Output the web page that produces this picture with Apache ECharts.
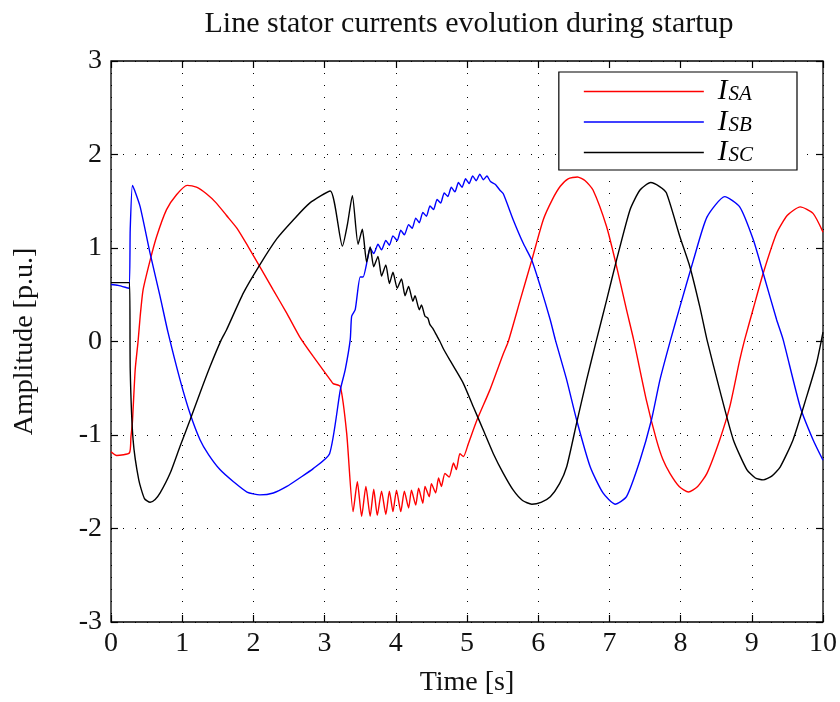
<!DOCTYPE html>
<html>
<head>
<meta charset="utf-8">
<script src="https://cdn.jsdelivr.net/npm/echarts@6/dist/echarts.min.js"></script>
<style>html,body{margin:0;padding:0;background:#fff}#c{width:840px;height:702px}</style>
</head>
<body>
<div id="c"></div>
<script>
// ---- data ----
var titleText = 'Line stator currents evolution during startup';
var xName = 'Time [s]';
var yName = 'Amplitude [p.u.]';
var xTicks = [0,1,2,3,4,5,6,7,8,9,10];
var yTicks = [-3,-2,-1,0,1,2,3];
var seriesNames = ['I_SA','I_SB','I_SC'];

var tA = [0.00,0.08,0.26,0.28,0.30,0.34,0.38,0.41,0.45,0.55,0.64,0.78,0.92,1.07,1.20,1.34,1.48,1.62,1.77,1.93,2.09,2.28,2.47,2.65,2.84,3.08,3.12,3.22,3.31,
  3.40,3.46,3.52,3.58,3.64,3.69,3.74,3.80,3.86,3.91,3.96,4.01,4.07,4.12,4.18,4.22,4.28,4.32,4.38,4.41,4.47,4.50,4.56,4.60,4.64,4.69,4.75,4.81,4.85,4.90,4.95,
  5.02,5.14,5.32,5.51,5.58,5.75,5.91,6.07,6.20,6.31,6.42,6.55,6.66,6.77,6.96,7.08,7.24,7.34,7.52,7.66,7.75,7.85,7.98,8.11,8.24,8.37,8.55,8.69,8.83,8.90,9.02,9.16,9.35,9.50,9.68,9.86,10.0];
var vA = [-1.18,-1.22,-1.19,-1.02,-0.87,-0.30,0.00,0.27,0.55,0.87,1.12,1.41,1.57,1.67,1.65,1.58,1.48,1.35,1.21,1.01,0.80,0.55,0.30,0.05,-0.16,-0.41,-0.45,-0.48,-0.98,
  -1.82,-1.50,-1.87,-1.55,-1.87,-1.58,-1.86,-1.60,-1.85,-1.60,-1.82,-1.59,-1.82,-1.60,-1.78,-1.59,-1.75,-1.57,-1.73,-1.55,-1.66,-1.52,-1.62,-1.46,-1.55,-1.41,-1.45,-1.30,-1.37,-1.20,-1.23,
  -1.09,-0.84,-0.52,-0.13,0.00,0.45,0.87,1.30,1.52,1.66,1.74,1.76,1.72,1.62,1.23,0.87,0.34,0.02,-0.63,-1.05,-1.26,-1.41,-1.55,-1.61,-1.55,-1.41,-1.05,-0.70,-0.20,0.02,0.35,0.73,1.16,1.35,1.44,1.37,1.17];

var tB = [0.00,0.10,0.25,0.27,0.30,0.33,0.41,0.55,0.69,0.80,0.97,1.11,1.25,1.37,1.53,1.72,1.91,2.09,2.28,2.47,2.65,2.84,3.07,3.22,3.29,3.36,3.38,3.43,3.50,3.54,3.60,
  3.64,3.69,3.75,3.80,3.86,3.91,3.96,4.02,4.07,4.12,4.18,4.23,4.28,4.33,4.38,4.43,4.48,4.53,4.58,4.63,4.68,4.73,4.78,4.83,4.88,4.93,4.98,5.03,5.08,5.13,5.18,5.23,5.28,5.33,
  5.40,5.46,5.51,5.65,5.79,5.91,6.03,6.17,6.24,6.40,6.54,6.73,6.91,7.08,7.24,7.43,7.59,7.71,7.86,7.99,8.18,8.37,8.62,8.83,9.02,9.16,9.35,9.44,9.68,9.86,10.0];
var vB = [0.61,0.60,0.57,1.20,1.67,1.62,1.44,0.94,0.48,0.10,-0.41,-0.77,-1.05,-1.21,-1.37,-1.50,-1.61,-1.64,-1.62,-1.55,-1.46,-1.36,-1.20,-0.52,-0.30,0.02,0.27,0.34,0.69,0.69,0.87,
  1.00,0.94,1.04,0.98,1.08,1.03,1.13,1.08,1.19,1.14,1.25,1.21,1.32,1.27,1.38,1.34,1.45,1.41,1.52,1.48,1.59,1.55,1.65,1.60,1.70,1.65,1.74,1.69,1.77,1.72,1.79,1.73,1.77,1.71,
  1.68,1.62,1.58,1.30,1.05,0.87,0.59,0.23,0.02,-0.41,-0.84,-1.34,-1.62,-1.74,-1.66,-1.27,-0.84,-0.41,0.02,0.37,0.87,1.33,1.55,1.44,1.09,0.73,0.23,0.02,-0.70,-1.05,-1.27];

var tC = [0.00,0.26,0.27,0.31,0.39,0.47,0.55,0.62,0.69,0.83,0.97,1.11,1.25,1.39,1.55,1.62,1.86,2.09,2.33,2.56,2.79,3.08,3.25,3.32,3.39,3.47,3.53,3.59,3.64,3.69,3.75,3.80,3.86,3.91,3.96,4.02,4.08,4.13,4.18,4.24,4.27,4.33,4.36,4.41,4.45,4.48,4.52,4.57,4.62,4.67,4.76,4.83,
  4.95,5.09,5.23,5.37,5.51,5.65,5.78,5.91,6.04,6.17,6.30,6.40,6.54,6.68,6.82,6.96,7.10,7.29,7.43,7.58,7.70,7.80,7.99,8.13,8.27,8.37,8.55,8.74,8.93,9.05,9.16,9.28,9.40,9.58,9.77,9.91,10.0];
var vC = [0.63,0.63,-0.30,-1.05,-1.48,-1.68,-1.72,-1.69,-1.62,-1.41,-1.12,-0.84,-0.55,-0.27,0.02,0.12,0.52,0.82,1.10,1.30,1.48,1.61,1.02,1.25,1.56,1.04,1.20,0.85,1.01,0.80,0.91,0.70,0.82,0.62,0.74,0.57,0.67,0.49,0.59,0.43,0.49,0.34,0.39,0.27,0.25,0.18,0.14,0.07,0.00,-0.08,-0.20,-0.29,
  -0.45,-0.70,-0.95,-1.20,-1.41,-1.59,-1.70,-1.74,-1.72,-1.66,-1.52,-1.34,-0.87,-0.41,0.02,0.44,0.87,1.41,1.62,1.70,1.66,1.59,1.12,0.80,0.37,0.02,-0.52,-1.05,-1.37,-1.46,-1.48,-1.44,-1.34,-1.05,-0.59,-0.23,0.10];

function pairs(t, v){ return t.map(function(x,i){ return [x, v[i]]; }); }

var FONT = 'Liberation Serif';
var chart = echarts.init(document.getElementById('c'), null, {renderer:'canvas'});
var dotted = {show:true, lineStyle:{color:'#000', width:1, type:[1,11]}};
var tickIn = {show:true, inside:true, length:7, lineStyle:{color:'#000', width:1.2}};
var noLine = {show:false, onZero:false};

chart.setOption({
  animation:false,
  backgroundColor:'#fff',
  title:{text:titleText, left:464, top:4, textAlign:'center',
    textStyle:{fontFamily:FONT, fontWeight:'normal', fontSize:30, color:'#111'}},
  grid:{left:111, top:61, width:712, height:561, show:true, borderColor:'#000', borderWidth:1.3, backgroundColor:'#fff'},
  legend:{orient:'vertical', right:43, top:72, backgroundColor:'#fff', borderColor:'#000', borderWidth:1.2,
    padding:[5,44,3,25], itemWidth:120, itemHeight:1.5, itemGap:1.5, icon:'rect',
    data:seriesNames,
    formatter:function(n){ return '{i|I}{s|' + n.split('_')[1] + '}'; },
    textStyle:{fontFamily:FONT, color:'#000', rich:{
      i:{fontFamily:FONT, fontStyle:'italic', fontSize:29, height:26, lineHeight:26, verticalAlign:'middle', padding:[0,1,0,9]},
      s:{fontFamily:FONT, fontStyle:'italic', fontSize:21, height:20, lineHeight:26, verticalAlign:'middle', padding:[6,0,0,0]}
    }}},
  xAxis:[
    {type:'value', min:0, max:10, interval:1, position:'bottom',
     axisLine:noLine, axisTick:tickIn, splitLine:dotted,
     axisLabel:{fontFamily:FONT, fontSize:28, color:'#111', margin:8,
       formatter:function(v){ return xTicks.indexOf(v) >= 0 ? String(v) : ''; }},
     name:xName, nameLocation:'middle', nameGap:47,
     nameTextStyle:{fontFamily:FONT, fontSize:28, color:'#111'}},
    {type:'value', min:0, max:10, interval:1, position:'top',
     axisLine:noLine, axisTick:tickIn, splitLine:{show:false}, axisLabel:{show:false}}
  ],
  yAxis:[
    {type:'value', min:-3, max:3, interval:1, position:'left',
     axisLine:noLine, axisTick:tickIn, splitLine:dotted,
     axisLabel:{fontFamily:FONT, fontSize:28, color:'#111', margin:9,
       formatter:function(v){ return yTicks.indexOf(v) >= 0 ? String(v) : ''; }},
     name:yName, nameLocation:'middle', nameGap:72, nameRotate:90,
     nameTextStyle:{fontFamily:FONT, fontSize:28, color:'#111'}},
    {type:'value', min:-3, max:3, interval:1, position:'right',
     axisLine:noLine, axisTick:tickIn, splitLine:{show:false}, axisLabel:{show:false}}
  ],
  series:[
    {name:seriesNames[0], type:'line', data:pairs(tA,vA), symbol:'none', smooth:0.2, lineStyle:{color:'#ff0000', width:1.4}, itemStyle:{color:'#ff0000'}},
    {name:seriesNames[1], type:'line', data:pairs(tB,vB), symbol:'none', smooth:0.2, lineStyle:{color:'#0000ff', width:1.4}, itemStyle:{color:'#0000ff'}},
    {name:seriesNames[2], type:'line', data:pairs(tC,vC), symbol:'none', smooth:0.2, lineStyle:{color:'#000000', width:1.4}, itemStyle:{color:'#000000'}}
  ]
});
</script>
</body>
</html>
